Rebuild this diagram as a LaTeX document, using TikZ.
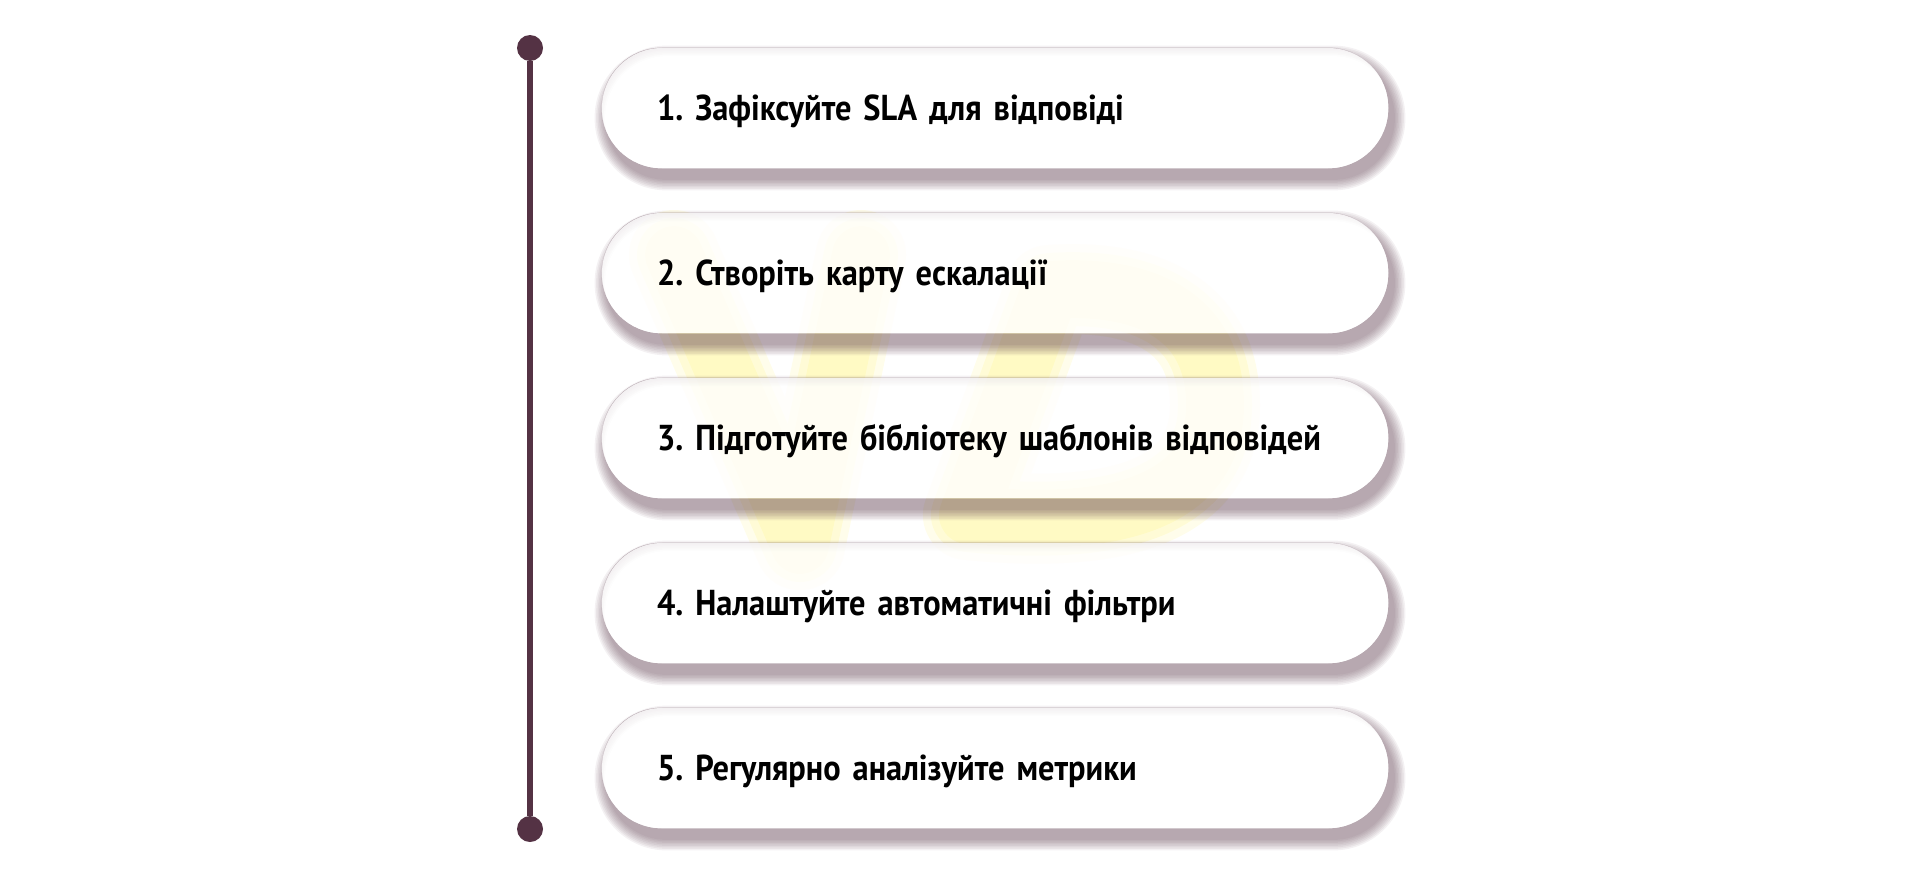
\documentclass[tikz,border=0pt]{standalone}
\usepackage{fontspec}
\setmainfont{PT Sans}[FakeStretch=0.9]
\usetikzlibrary{positioning}
\pgfdeclarelayer{back}
\pgfdeclarelayer{background}
\pgfsetlayers{back,background,main}
\definecolor{plum}{RGB}{84,50,68}
\definecolor{glow}{RGB}{255,248,175}
\tikzset{
  stepbox/.style={rectangle,rounded corners=30pt,fill=white,fill opacity=0.8,text opacity=1,
    minimum width=393pt,minimum height=60pt,text width=338pt,inner xsep=27.5pt,inner ysep=0pt,
    text height=14pt,text depth=1.5pt,
    align=left,font=\fontsize{18}{20}\selectfont\bfseries\frenchspacing},
  dot/.style={circle,fill=plum,minimum size=13pt,inner sep=0pt},
  rail/.style={plum,line width=3pt},
  wmark/.style={glow,line join=round,line cap=round}
}
\newcommand{\Step}[3]% y, name, text
{\node[stepbox] (#2) at (995,#1) {#3};
  \begin{pgfonlayer}{background}
    \foreach \e in {1,...,8}{
      \pgfmathsetmacro\r{30+0.75*\e}
      \fill[plum,opacity=0.065,even odd rule,rounded corners=\r pt]
        ([shift={(5-1.5*\e,10-1.5*\e)}]#2.north west) rectangle ([shift={(5+1.5*\e,10+1.5*\e)}]#2.south east)
        [rounded corners=30pt] (#2.north west) rectangle (#2.south east);
    }
  \end{pgfonlayer}}

\begin{document}
\begin{tikzpicture}[x=0.5pt,y=-0.5pt]
  \useasboundingbox (0,0) rectangle (1920,878);
  % faint logo behind the steps
  \begin{pgfonlayer}{back}
    \foreach \w/\o in {90/0.25,74/0.35,58/0.45}{
      \draw[wmark,opacity=\o,line width=\w*0.5pt] (674,255) -- (800,545) -- (861,255);
      \draw[wmark,opacity=\o,line width=\w*0.5pt] (1050,290) -- (968,515)
        .. controls (1120,530) and (1215,500) .. (1215,405)
        .. controls (1215,300) and (1120,285) .. cycle;
    }
  \end{pgfonlayer}
  % timeline
  \node[dot] (top) at (530,48) {};
  \node[dot] (bottom) at (530,829) {};
  \draw[rail] (top) -- (bottom);
  % steps
  \Step{108}{s1}{1. Зафіксуйте SLA для відповіді}
  \Step{273}{s2}{2. Створіть карту ескалації}
  \Step{438}{s3}{3. Підготуйте бібліотеку шаблонів відповідей}
  \Step{603}{s4}{4. Налаштуйте автоматичні фільтри}
  \Step{768}{s5}{5. Регулярно аналізуйте метрики}
\end{tikzpicture}
\end{document}
